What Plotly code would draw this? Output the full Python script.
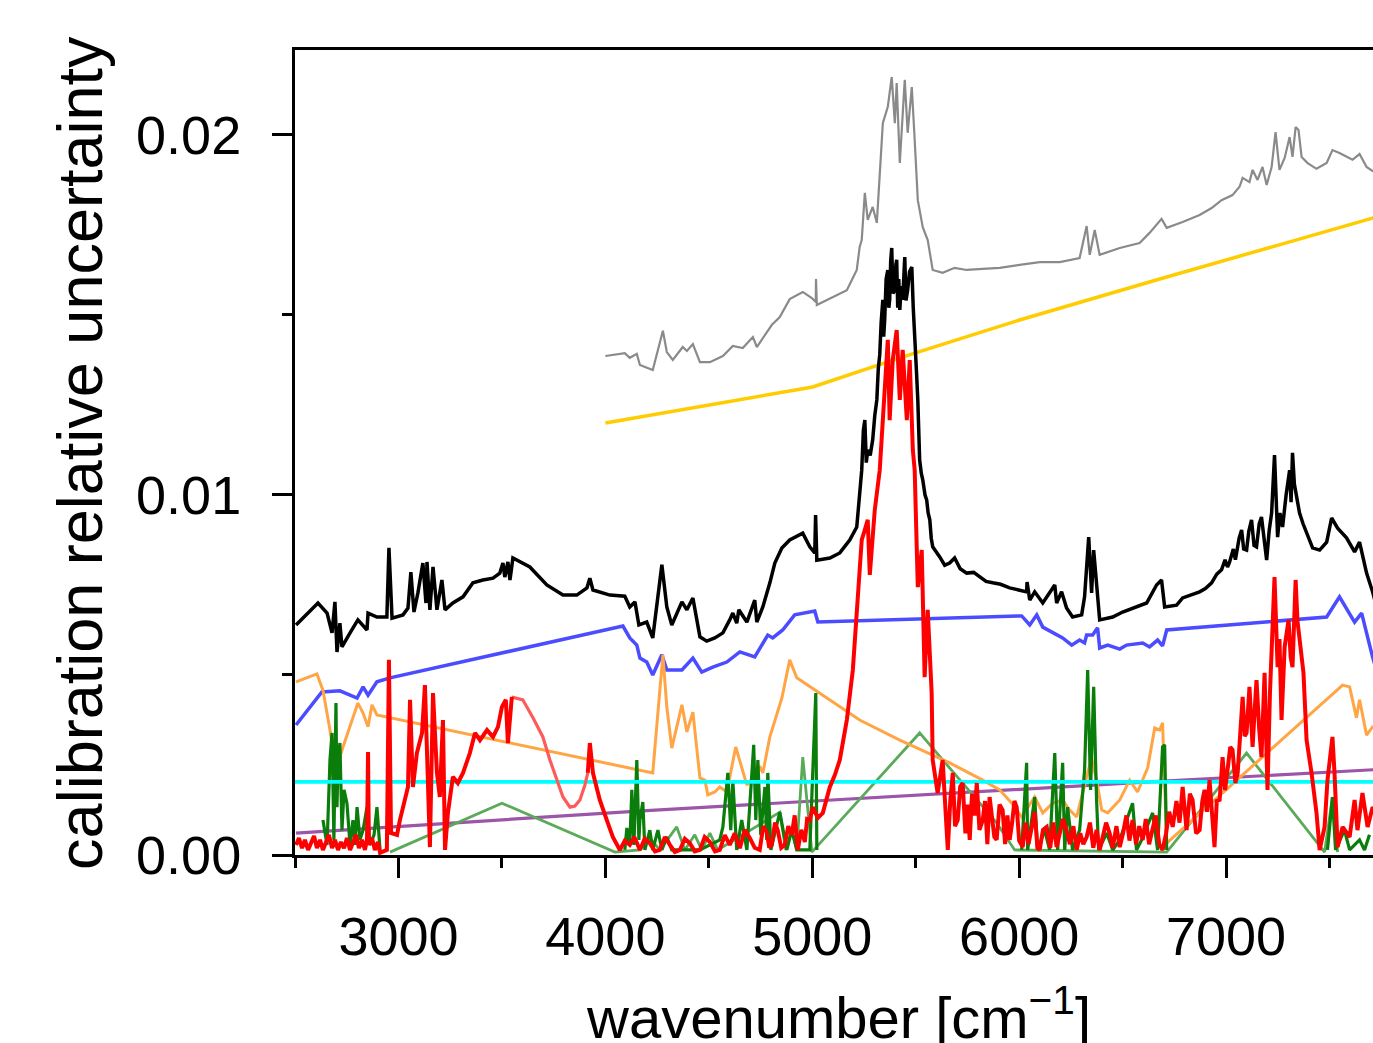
import plotly.graph_objects as go

# ---------------- data (wavenumber in cm^-1, relative uncertainty) ----------------
gray_x = [4000, 4094, 4118, 4152, 4167, 4229, 4278, 4297, 4326, 4374, 4394, 4423, 4457, 4505, 4568, 4616,
          4664, 4713, 4732, 4780, 4804, 4843, 4891, 4954, 4998, 5017, 5018, 5022, 5099, 5167, 5215, 5229,
          5239, 5254, 5268, 5292, 5312, 5326, 5341, 5365, 5384, 5399, 5408, 5423, 5447, 5461, 5481, 5495,
          5510, 5534, 5558, 5582, 5630, 5688, 5746, 5824, 5906, 6002, 6099, 6196, 6292, 6326, 6341, 6365,
          6389, 6486, 6582, 6630, 6688, 6713, 6790, 6872, 6930, 6978, 7031, 7065, 7080, 7113, 7128, 7152,
          7176, 7196, 7220, 7239, 7258, 7283, 7307, 7321, 7336, 7350, 7365, 7394, 7437, 7486, 7514, 7548,
          7611, 7645, 7679, 7708, 7750]
gray_y = [0.01386, 0.01394, 0.01381, 0.01392, 0.01361, 0.01347, 0.01456, 0.01397, 0.01375, 0.01411, 0.01400,
          0.01419, 0.01369, 0.01369, 0.01386, 0.01414, 0.01408, 0.01439, 0.01411, 0.01450, 0.01472, 0.01494,
          0.01544, 0.01564, 0.01547, 0.01536, 0.01600, 0.01528, 0.01550, 0.01569, 0.01625, 0.01689, 0.01708,
          0.01839, 0.01764, 0.01800, 0.01756, 0.01883, 0.02033, 0.02078, 0.02161, 0.02033, 0.02144, 0.01922,
          0.02153, 0.02006, 0.02133, 0.01986, 0.01819, 0.01744, 0.01708, 0.01625, 0.01617, 0.01631, 0.01625,
          0.01628, 0.01631, 0.01639, 0.01647, 0.01647, 0.01658, 0.01747, 0.01667, 0.01736, 0.01667, 0.01686,
          0.01700, 0.01728, 0.01767, 0.01742, 0.01758, 0.01778, 0.01797, 0.01819, 0.01833, 0.01856, 0.01881,
          0.01869, 0.01903, 0.01875, 0.01911, 0.01861, 0.01911, 0.02008, 0.01903, 0.01936, 0.01994, 0.01939,
          0.02022, 0.02014, 0.01939, 0.01922, 0.01906, 0.01922, 0.01958, 0.01950, 0.01931, 0.01947, 0.01911,
          0.01900, 0.01890]

yellow_x = [4000, 5002, 5423, 6002, 6679, 7708, 7750]
yellow_y = [0.01200, 0.01300, 0.01381, 0.01486, 0.01600, 0.01769, 0.01780]

black_x = [2505, 2611, 2655, 2679, 2693, 2703, 2717, 2727, 2766, 2804, 2848, 2853, 2896, 2944, 2954, 2969,
           3022, 3046, 3060, 3075, 3094, 3118, 3133, 3138, 3152, 3167, 3186, 3210, 3225, 3263, 3312, 3360,
           3408, 3457, 3490, 3505, 3514, 3529, 3539, 3553, 3635, 3717, 3795, 3862, 3911, 3925, 3940, 4022,
           4094, 4118, 4143, 4162, 4200, 4229, 4273, 4297, 4321, 4370, 4394, 4423, 4457, 4490, 4529, 4568,
           4601, 4616, 4635, 4645, 4684, 4722, 4732, 4761, 4795, 4819, 4853, 4891, 4954, 4988, 5012, 5016,
           5022, 5085, 5133, 5181, 5215, 5239, 5247, 5254, 5261, 5268, 5280, 5292, 5302, 5312, 5319, 5326,
           5333, 5341, 5345, 5350, 5357, 5365, 5370, 5374, 5379, 5384, 5390, 5399, 5404, 5408, 5413, 5418,
           5423, 5430, 5437, 5442, 5447, 5453, 5461, 5470, 5481, 5488, 5495, 5503, 5510, 5515, 5519, 5527,
           5534, 5545, 5553, 5560, 5568, 5575, 5582, 5616, 5640, 5664, 5688, 5715, 5746, 5780, 5809, 5840,
           5872, 5910, 5954, 6000, 6036, 6038, 6051, 6075, 6114, 6172, 6181, 6205, 6229, 6258, 6302, 6316,
           6336, 6350, 6360, 6389, 6452, 6500, 6548, 6616, 6664, 6688, 6703, 6761, 6790, 6872, 6900, 6930,
           6955, 6978, 6995, 7007, 7017, 7035, 7045, 7051, 7063, 7075, 7085, 7099, 7110, 7123, 7135, 7147,
           7160, 7171, 7185, 7196, 7208, 7220, 7234, 7242, 7249, 7260, 7273, 7290, 7307, 7314, 7321, 7330,
           7341, 7355, 7372, 7389, 7418, 7452, 7486, 7510, 7539, 7582, 7621, 7645, 7679, 7708, 7750]
black_y = [0.00639, 0.00700, 0.00672, 0.00617, 0.00703, 0.00564, 0.00644, 0.00578, 0.00617, 0.00653, 0.00625,
           0.00672, 0.00661, 0.00661, 0.00853, 0.00658, 0.00667, 0.00686, 0.00786, 0.00675, 0.00728, 0.00811,
           0.00700, 0.00814, 0.00681, 0.00800, 0.00681, 0.00764, 0.00681, 0.00700, 0.00717, 0.00756, 0.00764,
           0.00769, 0.00783, 0.00811, 0.00772, 0.00814, 0.00764, 0.00825, 0.00800, 0.00750, 0.00722, 0.00722,
           0.00742, 0.00769, 0.00736, 0.00722, 0.00719, 0.00689, 0.00703, 0.00639, 0.00647, 0.00603, 0.00806,
           0.00689, 0.00639, 0.00703, 0.00681, 0.00714, 0.00606, 0.00594, 0.00603, 0.00617, 0.00653, 0.00672,
           0.00644, 0.00681, 0.00647, 0.00708, 0.00647, 0.00689, 0.00756, 0.00811, 0.00853, 0.00875, 0.00894,
           0.00856, 0.00839, 0.00944, 0.00819, 0.00825, 0.00839, 0.00875, 0.00911, 0.01069, 0.01180, 0.01208,
           0.01090, 0.01125, 0.01110, 0.01153, 0.01220, 0.01264, 0.01350, 0.01389, 0.01480, 0.01542, 0.01440,
           0.01486, 0.01600, 0.01625, 0.01520, 0.01542, 0.01650, 0.01686, 0.01560, 0.01569, 0.01640, 0.01653,
           0.01520, 0.01600, 0.01514, 0.01580, 0.01542, 0.01620, 0.01661, 0.01540, 0.01569, 0.01620, 0.01633,
           0.01520, 0.01458, 0.01350, 0.01264, 0.01150, 0.01097, 0.01060, 0.01042, 0.01000, 0.00986, 0.00950,
           0.00931, 0.00880, 0.00856, 0.00828, 0.00805, 0.00811, 0.00825, 0.00795, 0.00783, 0.00785, 0.00772,
           0.00760, 0.00756, 0.00752, 0.00742, 0.00735, 0.00731, 0.00758, 0.00708, 0.00731, 0.00700, 0.00750,
           0.00700, 0.00731, 0.00686, 0.00661, 0.00667, 0.00717, 0.00883, 0.00728, 0.00847, 0.00653, 0.00661,
           0.00675, 0.00686, 0.00700, 0.00750, 0.00764, 0.00689, 0.00694, 0.00714, 0.00731, 0.00740, 0.00756,
           0.00780, 0.00792, 0.00820, 0.00800, 0.00814, 0.00850, 0.00820, 0.00839, 0.00880, 0.00903, 0.00850,
           0.00847, 0.00900, 0.00931, 0.00860, 0.00856, 0.00920, 0.00939, 0.00860, 0.00819, 0.00900, 0.00950,
           0.01111, 0.00950, 0.00883, 0.00950, 0.00911, 0.01000, 0.01069, 0.00980, 0.01117, 0.01030, 0.00994,
           0.00950, 0.00920, 0.00894, 0.00853, 0.00847, 0.00869, 0.00936, 0.00908, 0.00881, 0.00842, 0.00869,
           0.00783, 0.00731, 0.00640]

blue_x = [2505, 2630, 2717, 2800, 2829, 2853, 2896, 2959, 4085, 4118, 4152, 4167, 4200, 4229, 4273, 4297,
          4370, 4423, 4466, 4519, 4587, 4650, 4722, 4785, 4809, 4857, 4915, 5012, 5027, 6012, 6051, 6085,
          6114, 6162, 6210, 6254, 6292, 6316, 6326, 6355, 6379, 6389, 6428, 6486, 6519, 6597, 6630, 6669,
          6693, 6713, 7486, 7548, 7621, 7655, 7708, 7750]
blue_y = [0.00361, 0.00453, 0.00456, 0.00436, 0.00467, 0.00444, 0.00481, 0.00492, 0.00636, 0.00603, 0.00583,
          0.00547, 0.00536, 0.00500, 0.00556, 0.00514, 0.00514, 0.00547, 0.00508, 0.00522, 0.00536, 0.00564,
          0.00550, 0.00611, 0.00603, 0.00625, 0.00667, 0.00678, 0.00647, 0.00664, 0.00639, 0.00667, 0.00633,
          0.00619, 0.00603, 0.00583, 0.00597, 0.00589, 0.00611, 0.00611, 0.00631, 0.00575, 0.00583, 0.00572,
          0.00583, 0.00589, 0.00578, 0.00597, 0.00581, 0.00625, 0.00661, 0.00717, 0.00647, 0.00672, 0.00550,
          0.00470]

orange_x = [2505, 2606, 2635, 2669, 2698, 2732, 2804, 2829, 2853, 2872, 2896, 4157, 4229, 4278, 4297, 4321,
            4370, 4394, 4423, 4457, 4481, 4495, 4529, 4553, 4587, 4630, 4684, 4713, 4746, 4761, 4795, 4853,
            4891, 4925, 5229, 5423, 5664, 5824, 5906, 5964, 6012, 6075, 6114, 6162, 6210, 6244, 6278, 6326,
            6350, 6374, 6399, 6428, 6486, 6534, 6572, 6621, 6655, 6679, 6693, 6713, 7563, 7597, 7630, 7645,
            7679, 7708, 7750]
orange_y = [0.00481, 0.00503, 0.00458, 0.00347, 0.00236, 0.00300, 0.00422, 0.00394, 0.00356, 0.00417, 0.00389,
            0.00236, 0.00228, 0.00556, 0.00411, 0.00297, 0.00417, 0.00342, 0.00397, 0.00214, 0.00208, 0.00167,
            0.00175, 0.00189, 0.00175, 0.00300, 0.00194, 0.00214, 0.00247, 0.00228, 0.00328, 0.00436, 0.00542,
            0.00492, 0.00375, 0.00319, 0.00256, 0.00208, 0.00181, 0.00144, 0.00106, 0.00161, 0.00117, 0.00144,
            0.00153, 0.00125, 0.00106, 0.00217, 0.00269, 0.00208, 0.00125, 0.00117, 0.00153, 0.00208, 0.00175,
            0.00242, 0.00353, 0.00347, 0.00367, 0.00033, 0.00472, 0.00467, 0.00381, 0.00431, 0.00333, 0.00356,
            0.00350]

cyan_x = [2450, 7800]
cyan_y = [0.00203, 0.00203]

purple_x = [2505, 4157, 6630, 7708, 7750]
purple_y = [0.00061, 0.00122, 0.00203, 0.00236, 0.00238]

lgreen_x = [2959, 3500, 4046, 4167, 4215, 4263, 4345, 4384, 4432, 4466, 4505, 4543, 4843, 4872, 4901, 4925,
            4954, 4998, 5519, 5891, 5978, 6713, 7099, 7437, 7476, 7514, 7539]
lgreen_y = [0.00008, 0.00144, 0.00008, 0.00014, 0.00047, 0.00014, 0.00078, 0.00014, 0.00056, 0.00014, 0.00061,
            0.00014, 0.00119, 0.00014, 0.00069, 0.00014, 0.00272, 0.00008, 0.00339, 0.00089, 0.00014, 0.00008,
            0.00283, 0.00036, 0.00008, 0.00161, 0.00008]

dgreen_x = [2635, 2655, 2669, 2679, 2688, 2698, 2703, 2708, 2717, 2727, 2737, 2751, 2766, 2780, 2790, 2800,
            2814, 2829, 2848, 2862, 2882, 2896, 2911, None,
            4094, 4104, 4118, 4128, 4138, 4143, 4152, 4162, 4167, 4181, 4191, 4215, 4229, 4254, 4273, 4297,
            4321, 4457, 4553, 4568, 4592, 4606, 4616, 4635, 4659, 4684, 4713, 4717, 4727, 4737, 4751, 4771,
            4780, 4785, 4800, 4843, 4877, 4901, 4925, 4988, 5017, 5022, None,
            6012, 6036, 6041, 6075, 6089, 6123, 6147, 6172, 6186, 6210, 6220, 6234, 6258, 6292, 6316, 6331,
            6345, 6360, 6374, 6384, 6423, 6452, 6486, 6548, 6567, 6592, 6645, 6669, 6693, 6703, 6713, None,
            7490, 7514, 7529, 7572, 7597, 7645, 7669, 7693]
dgreen_y = [0.00097, 0.00028, 0.00264, 0.00339, 0.00042, 0.00422, 0.00133, 0.00264, 0.00311, 0.00069, 0.00181,
            0.00144, 0.00028, 0.00097, 0.00028, 0.00133, 0.00042, 0.00069, 0.00133, 0.00028, 0.00056, 0.00133,
            0.00014, None,
            0.00014, 0.00075, 0.00028, 0.00181, 0.00028, 0.00117, 0.00264, 0.00042, 0.00097, 0.00147, 0.00014,
            0.00069, 0.00014, 0.00069, 0.00014, 0.00050, 0.00014, 0.00014, 0.00042, 0.00078, 0.00228, 0.00069,
            0.00208, 0.00014, 0.00097, 0.00014, 0.00283, 0.00306, 0.00097, 0.00264, 0.00056, 0.00189, 0.00042,
            0.00228, 0.00014, 0.00119, 0.00014, 0.00069, 0.00014, 0.00014, 0.00450, 0.00014, None,
            0.00014, 0.00256, 0.00014, 0.00161, 0.00014, 0.00069, 0.00014, 0.00283, 0.00014, 0.00256, 0.00014,
            0.00133, 0.00014, 0.00069, 0.00236, 0.00514, 0.00181, 0.00467, 0.00153, 0.00014, 0.00061, 0.00014,
            0.00042, 0.00144, 0.00014, 0.00042, 0.00117, 0.00014, 0.00300, 0.00306, 0.00014, None,
            0.00014, 0.00161, 0.00014, 0.00069, 0.00014, 0.00042, 0.00014, 0.00056]

red_x = [2505, 2519, 2534, 2548, 2563, 2577, 2592, 2606, 2621, 2635, 2650, 2664, 2679, 2693, 2708, 2722,
         2737, 2751, 2766, 2780, 2795, 2809, 2824, 2838, 2848, 2853, 2857, 2872, 2886, 2901, 2911, 2944,
         2954, 2964, 2993, 3007, 3031, 3046, 3056, 3070, 3089, 3114, 3128, 3138, 3152, 3167, 3186, 3200,
         3215, 3225, 3239, 3263, 3287, 3312, 3345, 3370, 3394, 3428, 3457, 3481, 3500, 3519, 3529, 3548,
         None,
         3915, 3925, 3940, 3973, 4007, 4036, 4070, 4094, 4118, 4140, 4167, 4190, 4215, 4240, 4263, 4288,
         4312, 4336, 4360, 4384, 4408, 4432, 4457, 4480, 4505, 4530, 4553, 4577, 4601, 4625, 4650, 4674,
         4698, 4722, 4746, 4763, 4780, 4792, 4804, 4820, 4833, 4850, 4867, 4884, 4901, 4915, 4930, 4947,
         4964, 4975, 4988, 5002, 5027, 5051, 5085, 5109, 5133, 5167, 5196, 5220, 5239, 5254, 5268, 5278,
         5292, 5302, 5326, 5350, 5365, 5374, 5389, 5408, 5423, 5437, 5457, 5471, 5486, 5495, 5510, 5529,
         5543, 5558, 5577, 5582, 5606, 5630, 5655, 5667, 5679, 5690, 5703, 5715, 5727, 5740, 5750, 5761,
         5772, 5785, 5795, 5808, 5824, 5835, 5846, 5857, 5870, 5880, 5891, 5905, 5920, 5932, 5943, 5954,
         5966, 5977, 5988, 6000, 6017, 6030, 6045, 6060, 6075, 6088, 6099, 6115, 6133, 6150, 6165, 6181,
         6195, 6212, 6229, 6245, 6262, 6278, 6295, 6310, 6326, 6342, 6358, 6374, 6389, 6405, 6420, 6437,
         6452, 6470, 6486, 6502, 6518, 6533, 6548, 6565, 6580, 6597, 6612, 6628, 6645, 6660, 6677, 6693,
         6710, 6725, 6742, 6760, 6775, 6790, 6809, 6825, 6838, 6855, 6872, 6885, 6896, 6908, 6920, 6944,
         6955, 6969, 6983, 6995, 7007, 7020, 7031, 7045, 7056, 7068, 7080, 7090, 7099, 7113, 7128, 7140,
         7147, 7160, 7171, 7186, 7200, 7212, 7220, 7234, 7249, 7258, 7268, 7283, 7302, 7312, 7321, 7336,
         7345, 7355, 7374, 7389, 7400, 7413, 7437, 7452, 7476, 7490, 7514, 7524, 7539, 7563, 7597, 7621,
         7635, 7659, 7684, 7708, 7750]
red_y = [0.00028, 0.00047, 0.00019, 0.00042, 0.00014, 0.00036, 0.00053, 0.00019, 0.00042, 0.00014, 0.00033,
         0.00056, 0.00019, 0.00042, 0.00014, 0.00036, 0.00019, 0.00047, 0.00014, 0.00033, 0.00056, 0.00019,
         0.00042, 0.00014, 0.00042, 0.00286, 0.00028, 0.00047, 0.00014, 0.00036, 0.00006, 0.00014, 0.00542,
         0.00061, 0.00056, 0.00097, 0.00153, 0.00189, 0.00431, 0.00189, 0.00283, 0.00339, 0.00472, 0.00283,
         0.00022, 0.00450, 0.00228, 0.00161, 0.00375, 0.00014, 0.00117, 0.00217, 0.00200, 0.00228, 0.00283,
         0.00339, 0.00319, 0.00347, 0.00328, 0.00356, 0.00411, 0.00431, 0.00311, 0.00439,
         None,
         0.00228, 0.00311, 0.00228, 0.00153, 0.00097, 0.00050, 0.00014, 0.00040, 0.00028, 0.00050, 0.00014,
         0.00045, 0.00033, 0.00010, 0.00014, 0.00050, 0.00028, 0.00008, 0.00014, 0.00045, 0.00033, 0.00010,
         0.00014, 0.00050, 0.00036, 0.00010, 0.00014, 0.00055, 0.00028, 0.00060, 0.00019, 0.00070, 0.00047,
         0.00020, 0.00014, 0.00080, 0.00064, 0.00020, 0.00028, 0.00090, 0.00069, 0.00020, 0.00028, 0.00080,
         0.00056, 0.00110, 0.00014, 0.00070, 0.00036, 0.00100, 0.00097, 0.00133, 0.00103, 0.00117, 0.00189,
         0.00222, 0.00264, 0.00375, 0.00514, 0.00700, 0.00875, 0.00903, 0.00931, 0.00778, 0.00903, 0.00958,
         0.01069, 0.01292, 0.01431, 0.01208, 0.01375, 0.01458, 0.01264, 0.01403, 0.01208, 0.01375, 0.01125,
         0.01069, 0.00744, 0.00847, 0.00494, 0.00681, 0.00450, 0.00264, 0.00172, 0.00264, 0.00014, 0.00150,
         0.00228, 0.00080, 0.00097, 0.00190, 0.00200, 0.00060, 0.00140, 0.00042, 0.00170, 0.00110, 0.00200,
         0.00070, 0.00097, 0.00150, 0.00030, 0.00161, 0.00100, 0.00050, 0.00042, 0.00140, 0.00125, 0.00030,
         0.00110, 0.00042, 0.00090, 0.00150, 0.00133, 0.00040, 0.00022, 0.00090, 0.00030, 0.00078, 0.00120,
         0.00020, 0.00014, 0.00070, 0.00078, 0.00020, 0.00090, 0.00022, 0.00060, 0.00100, 0.00069, 0.00030,
         0.00080, 0.00014, 0.00060, 0.00030, 0.00050, 0.00090, 0.00020, 0.00070, 0.00014, 0.00050, 0.00090,
         0.00061, 0.00020, 0.00080, 0.00022, 0.00060, 0.00110, 0.00040, 0.00097, 0.00030, 0.00080, 0.00042,
         0.00100, 0.00030, 0.00069, 0.00110, 0.00030, 0.00014, 0.00060, 0.00120, 0.00078, 0.00150, 0.00090,
         0.00189, 0.00069, 0.00170, 0.00153, 0.00060, 0.00069, 0.00150, 0.00181, 0.00120, 0.00208, 0.00022,
         0.00150, 0.00153, 0.00272, 0.00180, 0.00236, 0.00300, 0.00292, 0.00200, 0.00228, 0.00350, 0.00439,
         0.00330, 0.00339, 0.00467, 0.00300, 0.00420, 0.00486, 0.00350, 0.00272, 0.00506, 0.00181, 0.00450,
         0.00561, 0.00772, 0.00522, 0.00600, 0.00375, 0.00578, 0.00653, 0.00550, 0.00522, 0.00764, 0.00650,
         0.00597, 0.00506, 0.00319, 0.00280, 0.00228, 0.00117, 0.00014, 0.00078, 0.00208, 0.00328, 0.00228,
         0.00022, 0.00078, 0.00050, 0.00153, 0.00069, 0.00172, 0.00078, 0.00133, 0.00090]

red_smooth_x = [3548, 3601, 3650, 3698, 3732, 3766, 3795, 3829, 3853, 3877, 3901, 3915]
red_smooth_y = [0.00439, 0.00431, 0.00381, 0.00328, 0.00264, 0.00208, 0.00161, 0.00133, 0.00136, 0.00153,
                0.00194, 0.00228]

x_major = [3000, 4000, 5000, 6000, 7000]
x_minor = [2500, 3500, 4500, 5500, 6500, 7500]
y_major = [0.0, 0.01, 0.02]
y_major_text = ["0.00", "0.01", "0.02"]
y_minor = [0.005, 0.015]

# ---------------- figure ----------------
fig = go.Figure()

def add(x, y, color, width, opacity=1.0):
    fig.add_trace(go.Scatter(x=x, y=y, mode="lines", line=dict(color=color, width=width),
                             opacity=opacity, hoverinfo="skip", showlegend=False,
                             connectgaps=False))

add(gray_x, gray_y, "#8a8a8a", 2.2)
add(yellow_x, yellow_y, "#ffcc00", 3.5)
add(black_x, black_y, "#000000", 3.5)
add(blue_x, blue_y, "#4b4bff", 3.5)
add(purple_x, purple_y, "#9c55a8", 3.2)
add(lgreen_x, lgreen_y, "#5aaa5a", 2.8)
add(orange_x, orange_y, "#ffa545", 3)
add(dgreen_x, dgreen_y, "#0a7d0a", 3.2)
add(cyan_x, cyan_y, "#00ffff", 3.8)
add(red_smooth_x, red_smooth_y, "#ff5a5a", 3.2)
add(red_x, red_y, "#ff0000", 4)

font_family = "Liberation Sans, Arial, Helvetica, sans-serif"

fig.update_layout(
    width=1373, height=1043,
    margin=dict(l=295, r=0, t=50, b=188, pad=0),
    paper_bgcolor="white", plot_bgcolor="white",
    font=dict(family=font_family, color="black"),
    showlegend=False,
    xaxis=dict(
        range=[2500, 7710], showgrid=False, zeroline=False,
        showline=True, linecolor="black", linewidth=3, mirror=True,
        tickmode="array", tickvals=x_major, ticktext=[str(v) for v in x_major],
        ticks="outside", ticklen=20, tickwidth=3, tickcolor="black",
        tickfont=dict(size=54, family=font_family, color="black"),
        ticklabelstandoff=12,
        minor=dict(tickvals=x_minor, ticks="outside", ticklen=10, tickwidth=3,
                   tickcolor="black", showgrid=False),
    ),
    yaxis=dict(
        range=[0, 0.02236], showgrid=False, zeroline=False,
        showline=True, linecolor="black", linewidth=3, mirror=False,
        tickmode="array", tickvals=y_major, ticktext=y_major_text,
        ticks="outside", ticklen=20, tickwidth=3, tickcolor="black",
        tickfont=dict(size=54, family=font_family, color="black"),
        ticklabelstandoff=20,
        minor=dict(tickvals=y_minor, ticks="outside", ticklen=10, tickwidth=3,
                   tickcolor="black", showgrid=False),
    ),
    annotations=[
        dict(text="calibration relative uncertainty", xref="paper", yref="paper",
             x=-0.2, y=0.5, xanchor="center", yanchor="middle", textangle=-90,
             showarrow=False, font=dict(size=63, family=font_family, color="black")),
        dict(text="wavenumber [cm<sup>\u22121</sup>]", xref="paper", yref="paper",
             x=0.504, y=-0.149, xanchor="center", yanchor="top",
             showarrow=False, font=dict(size=58, family=font_family, color="black")),
    ],
)

fig.write_html("out.html")
